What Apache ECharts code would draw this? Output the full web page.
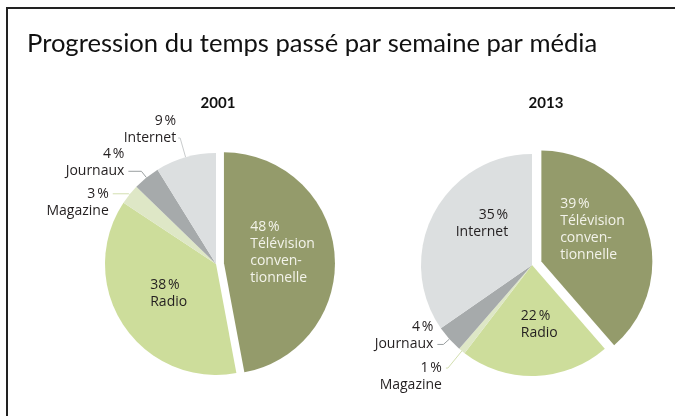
<!DOCTYPE html>
<html>
<head>
<meta charset="utf-8">
<script src="https://cdn.jsdelivr.net/npm/echarts@6/dist/echarts.min.js"></script>
<style>
  html, body { margin: 0; padding: 0; background: #ffffff; }
  #chart { width: 675px; height: 416px; }
</style>
</head>
<body>
<div id="chart"></div>
<script>
// ---- data ----
const chartTitle = 'Progression du temps passé par semaine par média';
const years = ['2001', '2013'];
const categories = ['Télévision conventionnelle', 'Radio', 'Magazine', 'Journaux', 'Internet'];
const labelNames = ['Télévision\nconven-\ntionnelle', 'Radio', 'Magazine', 'Journaux', 'Internet'];
const values2001 = [48, 38, 3, 4, 9];
const values2013 = [39, 22, 1, 4, 35];

// ---- styles ----
const sliceColors = ['#949b6b', '#cddd9b', '#dee7c6', '#a6aaab', '#dcdfe0'];
const leaderColors = ['#949b6b', '#cddd9b', '#d3dfb0', '#9a9fa0', '#c9cccd'];
const FONT = '"Open Sans", "Noto Sans", sans-serif';

// label placement per year / slice (inside: dx, dy, align ; outside: line lengths + which text line the leader points at)
const layouts = {
  '2001': [
    { inside: true, dx: -32, dy: -5, align: 'left', color: '#f3f3ea' },
    { inside: true, dx: -17, dy: -3, align: 'left', color: '#231f20' },
    { inside: false, length: 1, length2: 16, dist: 4, line: 1 },
    { inside: false, length: 8, length2: 13, dist: 4, line: 2 },
    { inside: false, length: 20, length2: 2, dist: 2, line: 2 }
  ],
  '2013': [
    { inside: true, dx: -36, dy: -12, align: 'left', color: '#f3f3ea' },
    { inside: true, dx: -13, dy: 1, align: 'left', color: '#231f20' },
    { inside: false, length: 22, length2: 2, dist: 4, line: 1 },
    { inside: false, length: 8, length2: 6, dist: 4, line: 2 },
    { inside: true, dx: 28, dy: -14, align: 'right', color: '#231f20' }
  ]
};

function buildData(values, year) {
  return values.map(function (v, i) {
    const lay = layouts[year][i];
    const item = {
      name: categories[i],
      value: v,
      itemStyle: { color: sliceColors[i], borderWidth: 0 },
      select: { itemStyle: { color: sliceColors[i], borderWidth: 0 } },
      selected: i === 0
    };
    if (lay.inside) {
      item.label = {
        position: 'inside',
        color: lay.color,
        fontFamily: FONT,
        fontSize: 14,
        lineHeight: 17
      };
      item.labelLine = { show: false };
    } else {
      item.label = {
        position: 'outside',
        color: '#231f20',
        fontFamily: FONT,
        fontSize: 14,
        lineHeight: 17,
        distanceToLabelLine: lay.dist
      };
      item.labelLine = {
        show: true,
        length: lay.length,
        length2: lay.length2,
        smooth: false,
        lineStyle: { color: leaderColors[i], width: 1 }
      };
    }
    return item;
  });
}

function makeSeries(values, year, center, offset) {
  return {
    type: 'pie',
    center: center,
    radius: 111,
    startAngle: 90,
    clockwise: true,
    selectedMode: 'single',
    selectedOffset: offset,
    avoidLabelOverlap: false,
    silent: true,
    emphasis: { disabled: true },
    label: {
      show: true,
      formatter: function (p) {
        const lay = layouts[year][p.dataIndex];
        const txt = p.value + '\u202F%\n' + labelNames[p.dataIndex];
        if (lay.inside) return txt;
        // an empty line keeps the leader line at the wanted text line
        return lay.line === 1 ? ' \n' + txt : txt + '\n ';
      }
    },
    labelLayout: function (p) {
      const lay = layouts[year][p.dataIndex];
      if (lay.inside) {
        return { dx: lay.dx, dy: lay.dy, align: lay.align };
      }
      return {};
    },
    data: buildData(values, year)
  };
}

const chart = echarts.init(document.getElementById('chart'), null, { renderer: 'canvas' });
chart.setOption({
  backgroundColor: '#ffffff',
  animation: false,
  graphic: [{
    type: 'rect',
    shape: { x: 7, y: 8, width: 720, height: 460 },
    style: { fill: 'none', stroke: '#222222', lineWidth: 2 },
    silent: true
  }],
  title: [
    {
      text: chartTitle,
      left: 27, top: 31, padding: 0,
      textStyle: { fontFamily: 'Lato, sans-serif', fontSize: 25.6, fontWeight: 'normal', color: '#111111' }
    },
    {
      text: years[0],
      left: 218, top: 96, padding: 0, textAlign: 'center',
      textStyle: { fontFamily: 'Lato, sans-serif', fontSize: 15, fontWeight: 'bold', color: '#111111' }
    },
    {
      text: years[1],
      left: 546, top: 96, padding: 0, textAlign: 'center',
      textStyle: { fontFamily: 'Lato, sans-serif', fontSize: 15, fontWeight: 'bold', color: '#111111' }
    }
  ],
  series: [
    makeSeries(values2001, '2001', [216, 264], 8),
    makeSeries(values2013, '2013', [532, 265], 10)
  ]
});
</script>
</body>
</html>
